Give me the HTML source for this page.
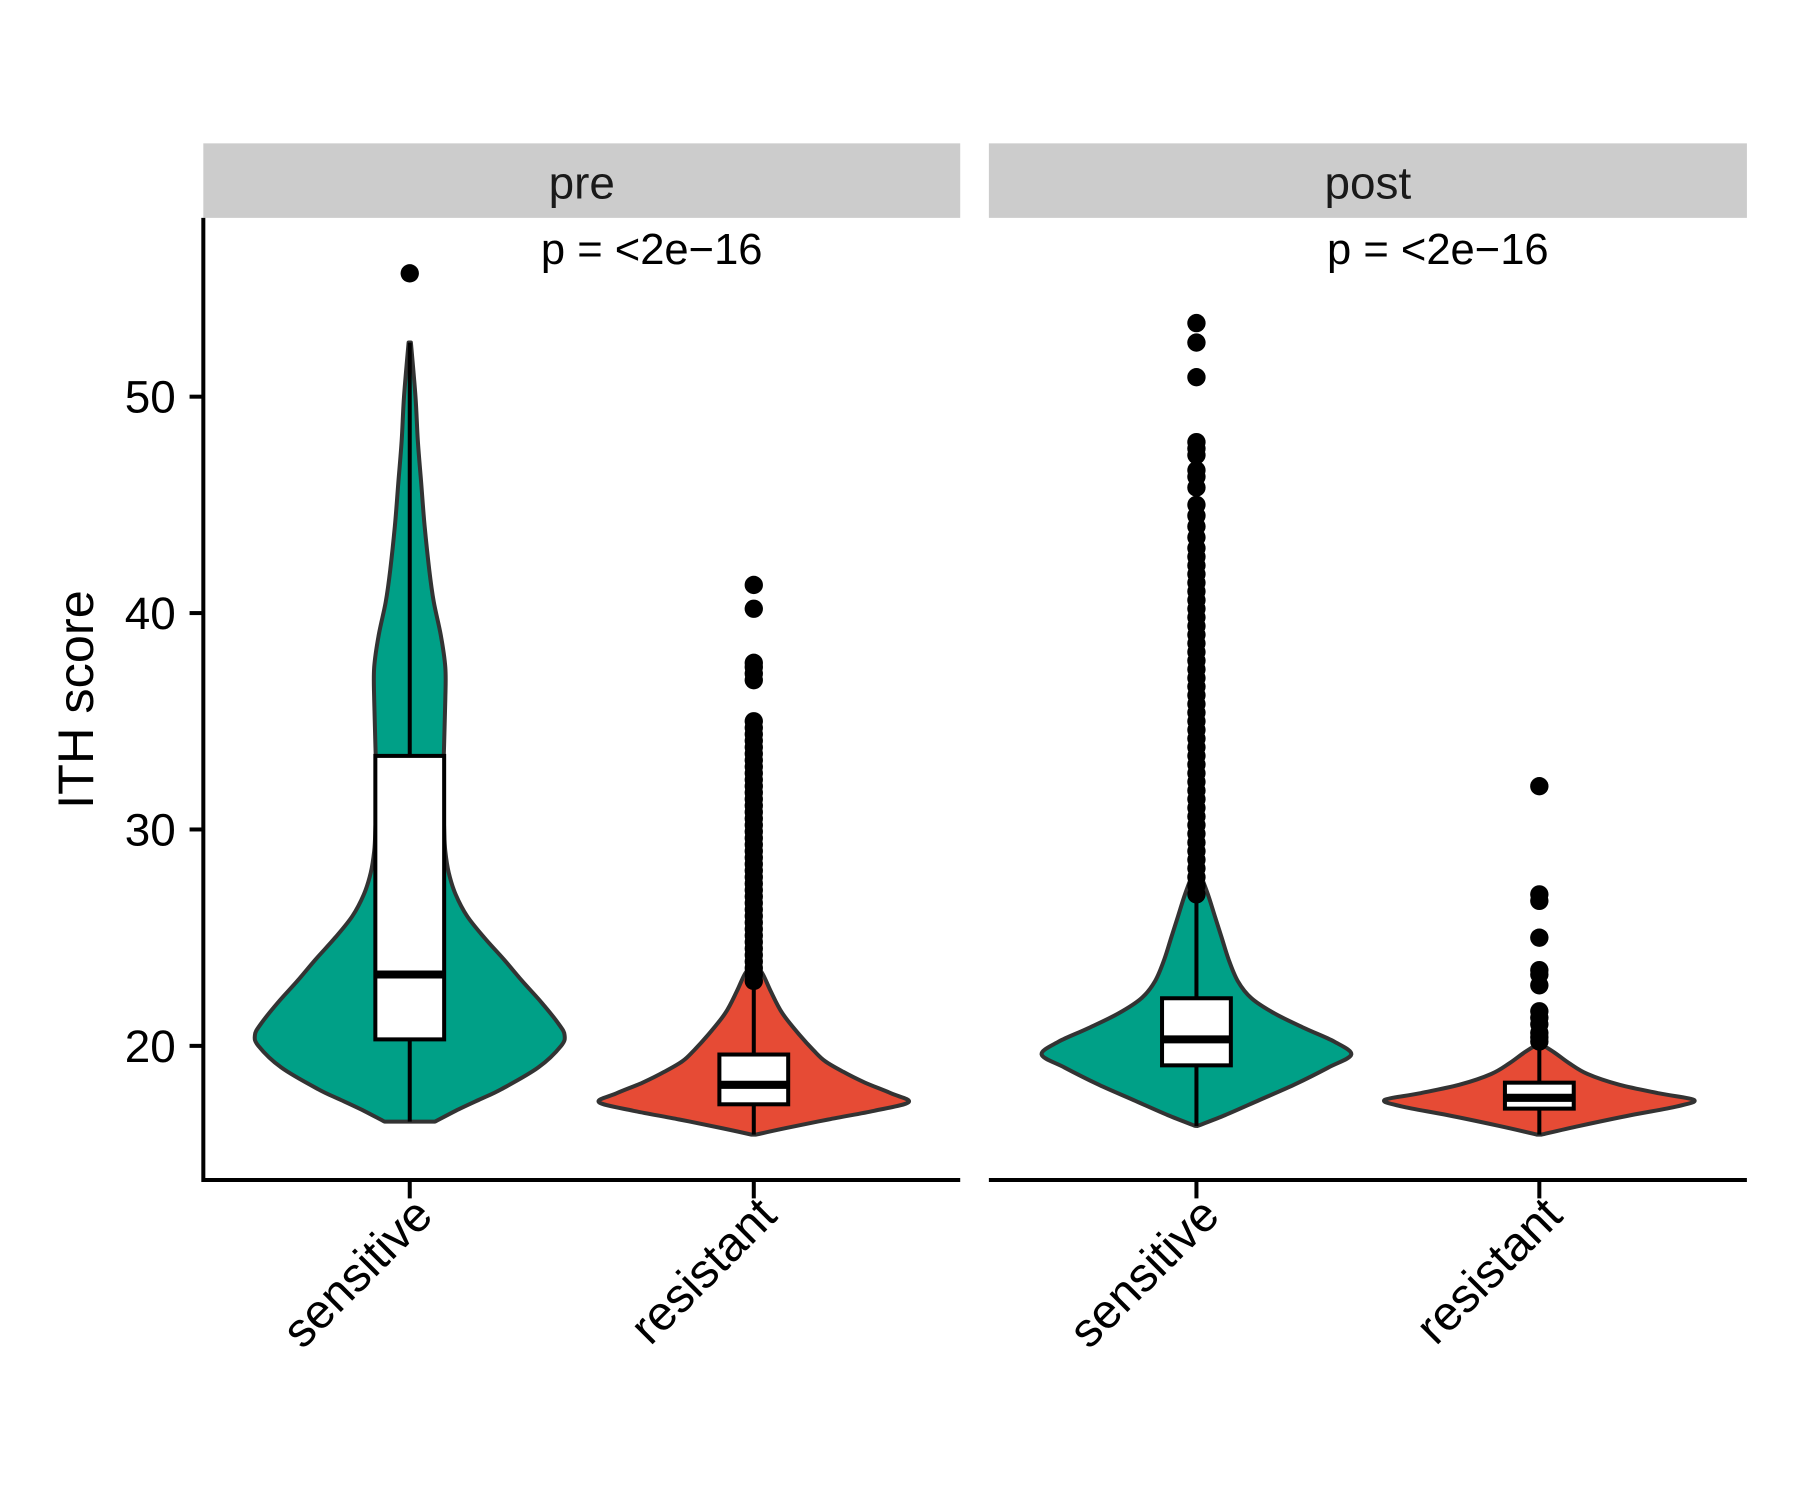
<!DOCTYPE html>
<html><head><meta charset="utf-8"><style>
html,body{margin:0;padding:0;background:#fff;}
svg{display:block;font-family:"Liberation Sans",Arial,sans-serif;}
</style></head><body>
<svg id="chart" width="1800" height="1500" viewBox="0 0 1569 1308" xmlns="http://www.w3.org/2000/svg">
<rect x="0" y="0" width="1569" height="1308" fill="#fff"/>
<g id="g"></g>
</svg>
<script>
const panels = ["pre","post"];
const categories = ["sensitive","resistant"];
const yTicks = [20,30,40,50];
const pLabels = ["p = <2e\u221216","p = <2e\u221216"];
// violin profiles: values and relative half widths
const vPreSensVals = [16.5,17,17.5,18,19,20,20.5,21,22,23,24,25,26,27,28,29,30,32,34,36,37.5,39,40.5,42,44,46,48,50,52.5];
const vPreSensDens = [22,40,60,80,112,132,135,130,115,98,82,65,50,40,34,31,30,29,30,31,31,27,21,17,13,10,7,5,1];
const vPreResVals = [15.9,16.2,16.6,17,17.4,17.8,18.3,18.8,19.3,19.8,20.5,21.5,22.5,23.3,23.8];
const vPreResDens = [2,28,65,105,135,120,97,78,62,52,40,25,15,8,1];
const vPostSensVals = [16.3,16.8,17.5,18.2,19,19.6,20.2,20.8,21.5,22.2,23,24,25,26,27,28];
const vPostSensDens = [1,25,55,85,115,135,120,95,68,48,36,28,22,16,10,3];
const vPostResVals = [15.9,16.3,16.8,17.2,17.5,17.8,18.2,18.7,19.2,19.7,20.1];
const vPostResDens = [2,35,80,120,135,105,70,42,26,13,1];
// box stats: q1, median, q3, whisker low, whisker high
const boxPreSens = [20.3,23.3,33.4,16.5,52.5];
const boxPreRes = [17.3,18.2,19.6,15.9,23.0];
const boxPostSens = [19.1,20.3,22.2,16.3,27.0];
const boxPostRes = [17.1,17.6,18.3,15.9,20.0];
// outliers
const outPreSens = [55.7];
const outPreRes = [23.0,23.3,23.6,23.9,24.2,24.5,24.8,25.1,25.4,25.7,26.0,26.3,26.6,26.9,27.2,27.5,27.8,28.1,28.4,28.7,29.0,29.3,29.6,29.9,30.2,30.5,30.8,31.1,31.4,31.7,32.0,32.3,32.6,32.9,33.2,33.5,33.8,34.1,34.4,34.7,35.0,36.9,37.2,37.5,37.7,40.2,41.3];
const outPostSens = [27.0,27.4,27.8,28.2,28.6,29.0,29.4,29.8,30.2,30.6,31.0,31.4,31.8,32.2,32.6,33.0,33.4,33.8,34.2,34.6,35.0,35.4,35.8,36.2,36.6,37.0,37.4,37.8,38.2,38.6,39.0,39.4,39.8,40.2,40.6,41.0,41.4,41.8,42.2,42.6,43.0,43.5,44.0,44.5,45.0,45.8,46.3,46.6,47.3,47.6,47.9,50.9,52.5,53.4];
const outPostRes = [20.2,20.4,20.6,21.0,21.3,21.6,22.8,23.3,23.5,25.0,26.7,27.0,32.0];

const violinVals = [[vPreSensVals,vPreResVals],[vPostSensVals,vPostResVals]];
const violinDens = [[vPreSensDens,vPreResDens],[vPostSensDens,vPostResDens]];
const boxes = [[boxPreSens,boxPreRes],[boxPostSens,boxPostRes]];
const outliers = [[outPreSens,outPreRes],[outPostSens,outPostRes]];
const fills = ["#00A087","#E64B35"];

const NS="http://www.w3.org/2000/svg";
const g=document.getElementById('g');
const panelX=[[177,837],[862,1523]];
const catX=[[357,657],[1043,1342]];
const yScale=v=>912-(v-20)*18.87;
const maxHalf=135;
function mk(tag,attrs,parent){const e=document.createElementNS(NS,tag);for(const k in attrs)e.setAttribute(k,attrs[k]);(parent||g).appendChild(e);return e;}
function smooth(pts){
  let d="M"+pts[0][0]+","+pts[0][1];
  for(let i=0;i<pts.length-1;i++){
    const p0=pts[Math.max(i-1,0)],p1=pts[i],p2=pts[i+1],p3=pts[Math.min(i+2,pts.length-1)];
    const c1=[p1[0]+(p2[0]-p0[0])/6,p1[1]+(p2[1]-p0[1])/6];
    const c2=[p2[0]-(p3[0]-p1[0])/6,p2[1]-(p3[1]-p1[1])/6];
    d+=" C"+c1[0].toFixed(1)+","+c1[1].toFixed(1)+" "+c2[0].toFixed(1)+","+c2[1].toFixed(1)+" "+p2[0].toFixed(1)+","+p2[1].toFixed(1);
  }
  return d;
}
panels.forEach((pn,pi)=>{
  const [x0,x1]=panelX[pi];
  const strip=mk('rect',{x:x0,y:125,width:x1-x0,height:65,fill:'#cccccc'});
  
  
  const st=mk('text',{x:(x0+x1)/2,y:173,'font-size':40,'text-anchor':'middle',fill:'#1a1a1a'});
  st.textContent=pn;
  
  
  const pt=mk('text',{x:(x0+x1)/2+61,y:230,'font-size':38,'text-anchor':'middle',fill:'#000'});
  pt.textContent=pLabels[pi];
  
  
  const xa=mk('line',{x1:x0,x2:x1,y1:1029,y2:1029,stroke:'#000','stroke-width':3.5});
  
  
  categories.forEach((c,ci)=>{
    const cx=catX[pi][ci];
    const vals=violinVals[pi][ci],dens=violinDens[pi][ci];
    const right=vals.map((v,i)=>[cx+dens[i]/maxHalf*135,yScale(v)]);
    const left=vals.map((v,i)=>[cx-dens[i]/maxHalf*135,yScale(v)]).reverse();
    let d=smooth(right);
    d+=" L"+left[0][0].toFixed(1)+","+left[0][1].toFixed(1)+smooth(left).replace(/^M[^C]*/,' ')+" Z";
    const vp=mk('path',{d:d,fill:fills[ci],stroke:'#333','stroke-width':3.5,'stroke-linejoin':'round'});
    
    
    const b=boxes[pi][ci];
    const wl=mk('line',{x1:cx,x2:cx,y1:yScale(b[3]),y2:yScale(b[0]),stroke:'#000','stroke-width':3.5});
    
    
    const wh=mk('line',{x1:cx,x2:cx,y1:yScale(b[2]),y2:yScale(b[4]),stroke:'#000','stroke-width':3.5});
    
    
    const outs=outliers[pi][ci];
    outs.forEach(v=>{
      const o=mk('circle',{cx:cx,cy:yScale(v),r:8,fill:'#000'});
      
      
    });
    const br=mk('rect',{x:cx-30,y:yScale(b[2]),width:60,height:yScale(b[0])-yScale(b[2]),fill:'#fff',stroke:'#000','stroke-width':3.5});
    
    
    const md=mk('line',{x1:cx-30,x2:cx+30,y1:yScale(b[1]),y2:yScale(b[1]),stroke:'#000','stroke-width':7});
    
    
    const tk=mk('line',{x1:cx,x2:cx,y1:1029,y2:1045,stroke:'#000','stroke-width':3.5});
    
    
    const tl=mk('text',{x:cx+22,y:1062,'font-size':42,'text-anchor':'end',fill:'#000',transform:'rotate(-45 '+(cx+22)+' 1062)'});
    tl.textContent=c;
    
    
  });
});
const ya=mk('line',{x1:177,x2:177,y1:190,y2:1030.75,stroke:'#000','stroke-width':3.5});


yTicks.forEach(t=>{
  const tk=mk('line',{x1:165,x2:177,y1:yScale(t),y2:yScale(t),stroke:'#000','stroke-width':3.5});
  
  
  const tl=mk('text',{x:153,y:yScale(t)+14,'font-size':40,'text-anchor':'end',fill:'#000'});
  tl.textContent=t;
  
  
});
const yt=mk('text',{x:81,y:610,'font-size':44,'text-anchor':'middle',fill:'#000',transform:'rotate(-90 81 610)'});
yt.textContent='ITH score';


</script>
</body></html>
